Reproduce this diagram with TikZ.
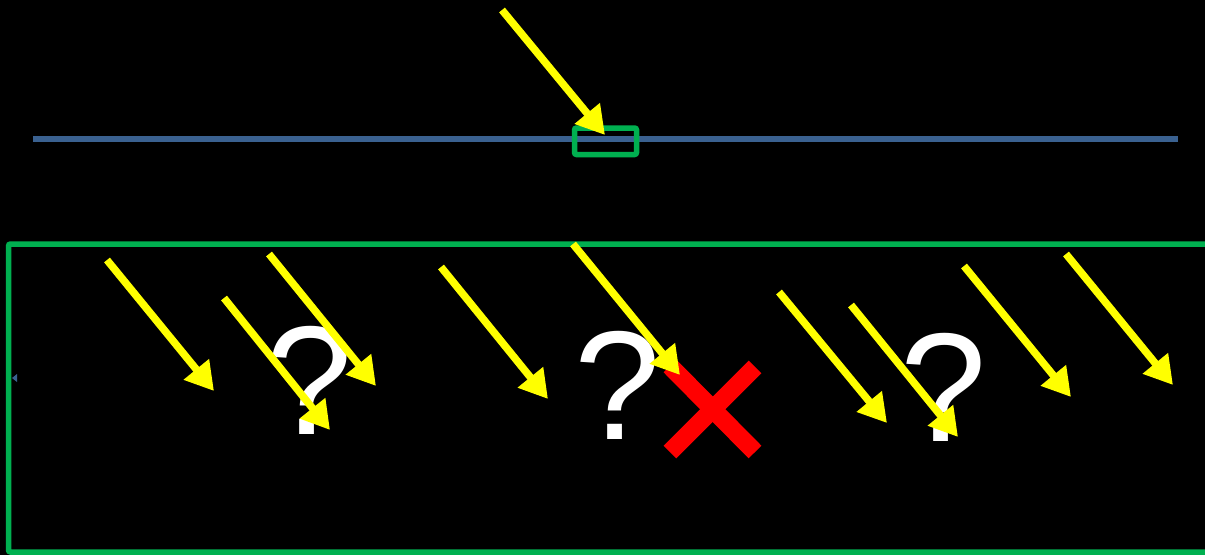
\documentclass[tikz,border=0pt]{standalone}
\usepackage{fontspec}
\setmainfont{Liberation Sans}
\usetikzlibrary{arrows.meta}
\definecolor{ygreen}{HTML}{00B050}
\definecolor{lineblue}{HTML}{3A6190}
\definecolor{ray}{HTML}{FFFF00}
\definecolor{xred}{HTML}{FF0000}
\tikzset{
  rayarrow/.style={draw=ray, line width=7.5pt, -{Triangle[length=28pt,width=31pt]}},
  qmark/.style={text=white, font=\fontsize{155}{155}\selectfont, inner sep=0pt},
  frame/.style={draw=ygreen, line width=5.5pt, rounded corners=2pt},
  cross/.style={draw=xred, line width=18pt}
}
\begin{document}
\begin{tikzpicture}[x=1pt,y=-1pt]
\fill[black] (0,0) rectangle (1205,555);
\useasboundingbox (0,0) rectangle (1205,555);
% blue line
\draw[lineblue, line width=6.5pt] (33,139) -- (1178,139);
% big frame
\draw[frame] (1215,244) -- (8.5,244) -- (8.5,552) -- (1215,552);
% small blue marker
\fill[lineblue] (12,378) -- (17,374) -- (17,382) -- cycle;
% question marks
\node[qmark] (q1) at (310,380) {?};
\node[qmark] (q2) at (618,385) {?};
\node[qmark] (q3) at (944,387) {?};
% red X
\draw[cross] (670,366) -- (755,452);
\draw[cross] (755,367) -- (670,452);
% small green box
\draw[frame] (574.5,128) rectangle (636.5,154.5);
% rays
\draw[rayarrow] (502,10) -- (605,135);
\draw[rayarrow] (107,260) -- (214,391);
\draw[rayarrow] (224,298) -- (330,430);
\draw[rayarrow] (269,254) -- (376,386);
\draw[rayarrow] (441,267) -- (548,399);
\draw[rayarrow] (573,244) -- (680,375);
\draw[rayarrow] (779,292) -- (887,423);
\draw[rayarrow] (851,305) -- (958,437);
\draw[rayarrow] (964,266) -- (1071,397);
\draw[rayarrow] (1066,254) -- (1173,385);
\end{tikzpicture}
\end{document}
